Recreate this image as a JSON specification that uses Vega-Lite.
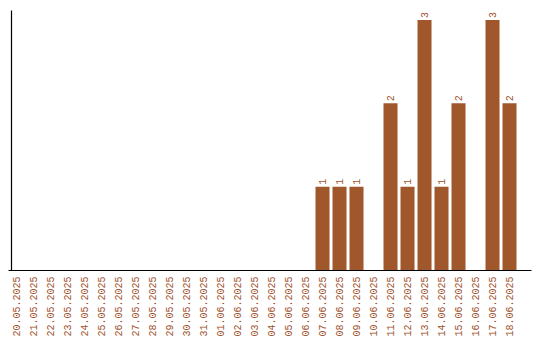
{
  "$schema": "https://vega.github.io/schema/vega-lite/v6.json",
  "width": 523,
  "height": 260,
  "autosize": "none",
  "padding": {"left": 8, "top": 10, "right": 9, "bottom": 70},
  "background": "white",
  "config": {"view": {"stroke": null}},
  "data": {"values": [
    {"date": "20.05.2025", "n": 0},
    {"date": "21.05.2025", "n": 0},
    {"date": "22.05.2025", "n": 0},
    {"date": "23.05.2025", "n": 0},
    {"date": "24.05.2025", "n": 0},
    {"date": "25.05.2025", "n": 0},
    {"date": "26.05.2025", "n": 0},
    {"date": "27.05.2025", "n": 0},
    {"date": "28.05.2025", "n": 0},
    {"date": "29.05.2025", "n": 0},
    {"date": "30.05.2025", "n": 0},
    {"date": "31.05.2025", "n": 0},
    {"date": "01.06.2025", "n": 0},
    {"date": "02.06.2025", "n": 0},
    {"date": "03.06.2025", "n": 0},
    {"date": "04.06.2025", "n": 0},
    {"date": "05.06.2025", "n": 0},
    {"date": "06.06.2025", "n": 0},
    {"date": "07.06.2025", "n": 1},
    {"date": "08.06.2025", "n": 1},
    {"date": "09.06.2025", "n": 1},
    {"date": "10.06.2025", "n": 0},
    {"date": "11.06.2025", "n": 2},
    {"date": "12.06.2025", "n": 1},
    {"date": "13.06.2025", "n": 3},
    {"date": "14.06.2025", "n": 1},
    {"date": "15.06.2025", "n": 2},
    {"date": "16.06.2025", "n": 0},
    {"date": "17.06.2025", "n": 3},
    {"date": "18.06.2025", "n": 2}
  ]},
  "encoding": {
    "x": {
      "field": "date", "type": "ordinal", "sort": null,
      "scale": {"paddingInner": 0.176, "paddingOuter": 0.47, "align": 0.094},
      "axis": {
        "title": null, "ticks": false, "labelAngle": -90, "labelAlign": "right", "labelBaseline": "middle",
        "labelPadding": 6, "labelFont": "Liberation Mono", "labelFontSize": 10, "labelColor": "#a0522d",
        "domainColor": "#000000", "domainWidth": 1.2
      }
    },
    "y": {
      "field": "n", "type": "quantitative",
      "scale": {"domain": [0, 3.12], "nice": false},
      "axis": {"title": null, "labels": false, "ticks": false, "grid": false, "domainColor": "#000000", "domainWidth": 1.2, "offset": -3}
    }
  },
  "layer": [
    {"mark": {"type": "bar", "color": "#a0572b"}},
    {
      "transform": [{"filter": "datum.n > 0"}],
      "mark": {"type": "text", "angle": -90, "align": "left", "baseline": "middle", "dx": 2, "font": "Liberation Mono", "fontSize": 10, "color": "#a0522d"},
      "encoding": {"text": {"field": "n", "type": "quantitative"}}
    }
  ]
}
